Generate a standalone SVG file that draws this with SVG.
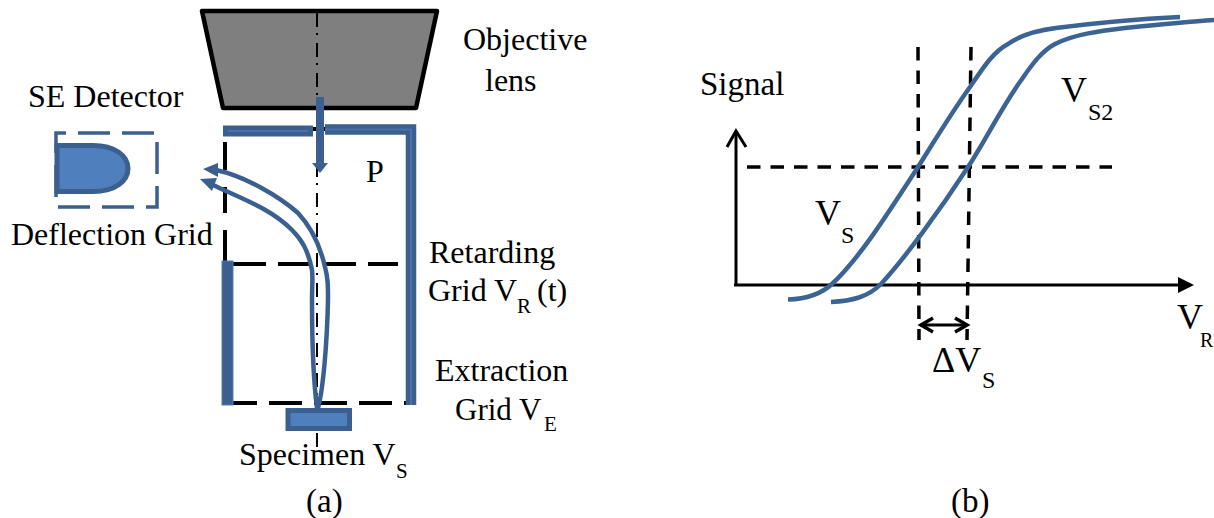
<svg xmlns="http://www.w3.org/2000/svg" width="1214" height="518" viewBox="0 0 1214 518">
<style>
text{font-family:"Liberation Serif","Times New Roman",serif;font-size:32px;fill:#000}
.sub{font-size:21px}
.sub2{font-size:24px}
.big{font-size:36px}
.blue{fill:none;stroke:#3B5F8F;stroke-width:4.5}
.wall{fill:#3B5F8F;stroke:#4F7FB8;stroke-width:1}
.dash{fill:none;stroke:#000;stroke-width:4;stroke-dasharray:33 12}
.dash2{fill:none;stroke:#000;stroke-width:3.5;stroke-dasharray:13.5 10}
.ax{fill:none;stroke:#000;stroke-width:3}
.curve{fill:none;stroke:#3B6494;stroke-width:4.5}
.tip{fill:#3B5F8F}
</style>
<g id="objective-lens"><path d="M202 11H437L416 108H223z" fill="#7F7F7F" stroke="#000" stroke-width="4.5" stroke-linejoin="round"/></g>
<g id="column">
<path d="M225 142V170M225 187V213M225 230V262" fill="none" stroke="#000" stroke-width="4"/>
<path class="dash" d="M233 264H398"/>
<path class="dash" stroke-dashoffset="9" d="M233 403H406"/>
<path d="M313 129H325" fill="none" stroke="#000" stroke-width="4"/>
<path d="M325 129.500H411V405" fill="none" stroke="#3B5F8F" stroke-width="10.500"/>
<path d="M325 129.500H411V405" fill="none" stroke="#4A72A8" stroke-width="2"/>
<rect x="223" y="125.500" width="90" height="11" fill="#3B5F8F"/>
<path d="M228 131H308" fill="none" stroke="#4A72A8" stroke-width="2"/>
<rect class="wall" x="222" y="261" width="11" height="144"/>
</g>
<g id="axis"><path d="M317 13V450" fill="none" stroke="#000" stroke-width="2" stroke-dasharray="14 6 2 8"/></g>
<g id="detector">
<path d="M57 145.500H93C115 145.500 128 156 128 168.500C128 181 115 191.500 93 191.500H57z" fill="#4F7FBD" stroke="#3B5F8F" stroke-width="5"/>
<rect x="56" y="133" width="101" height="74" fill="none" stroke="#3B5F8F" stroke-width="3.500" stroke-dasharray="32 12" stroke-dashoffset="22"/>
</g>
<g id="specimen"><rect x="288" y="410.500" width="61.500" height="18" fill="#4F7FBD" stroke="#3B5F8F" stroke-width="5"/></g>
<g id="connectors">
<path d="M320 97V165" fill="none" stroke="#3B5F8F" stroke-width="8"/>
<path class="tip" d="M312 163H328L320 173z"/>
<path class="blue" d="M317 408C314 385 312 340 312 300C312 285 313 278 312 270C308 250 302 240 292 230C270 208 240 198 213 185"/>
<path class="blue" d="M318 408C323 390 327 345 328 300C328 285 328 278 325 267C320 245 312 228 298 213C280 197 245 176 216 170"/>
<path class="tip" d="M203 169L218 163L218 177z"/>
<path class="tip" d="M200 179L217 178L212 191z"/>
</g>
<g id="chart">
<path class="ax" d="M736 285V131"/>
<path class="ax" d="M727 147L736 131L746 147"/>
<path class="ax" d="M734 285H1180"/>
<path d="M1178 277L1194 285L1178 293z" fill="#000"/>
<path class="dash2" d="M747 167H1112"/>
<path class="dash2" d="M918 47L919 340M971 47L967 340"/>
<path d="M920 325H967" class="ax"/>
<path d="M933 318L921 325L933 332M955 318L967 325L955 332" fill="none" stroke="#000" stroke-width="3.500"/>
<path class="curve" d="M788 299.500C806 299 820 295 832 284C858 260 885 218 918 167C935 140 952 112 970 87C983 68 993 52 1008 44C1022 34 1040 30 1056 28C1095 23 1140 19 1180 17"/>
<path class="curve" d="M831 302C852 301 868 297 881 284C905 258 940 210 968 167C985 141 1003 105 1022 79C1033 63 1042 51 1055 44C1075 34 1100 31 1125 28C1155 25 1185 22 1214 20"/>
</g>
<g id="labels">
<text x="463" y="50">Objective</text>
<text x="485" y="91">lens</text>
<text x="28" y="107">SE Detector</text>
<text x="11" y="245">Deflection Grid</text>
<text x="366" y="182">P</text>
<text x="429" y="263">Retarding</text>
<text x="428" y="301">Grid V</text><text class="sub" x="517" y="313">R</text><text x="537" y="301">(t)</text>
<text x="435" y="381">Extraction</text>
<text x="455" y="420" style="font-size:31px">Grid V</text><text class="sub" x="544" y="431">E</text>
<text x="239" y="465">Specimen V</text><text class="sub" x="396" y="478">S</text>
<text x="306" y="512" style="font-size:33px">(a)</text>
<text x="951" y="512" style="font-size:33px">(b)</text>
<text x="700" y="95" style="font-size:33px">Signal</text>
<text class="big" x="1061" y="102">V</text><text class="sub2" x="1088" y="120">S2</text>
<text class="big" x="815" y="225">V</text><text class="sub2" x="841" y="243">S</text>
<text class="big" x="932" y="372">ΔV</text><text class="sub2" x="982" y="388">S</text>
<text class="big" x="1177" y="329">V</text><text x="1200" y="347" style="font-size:20px">R</text>
</g>
</svg>
